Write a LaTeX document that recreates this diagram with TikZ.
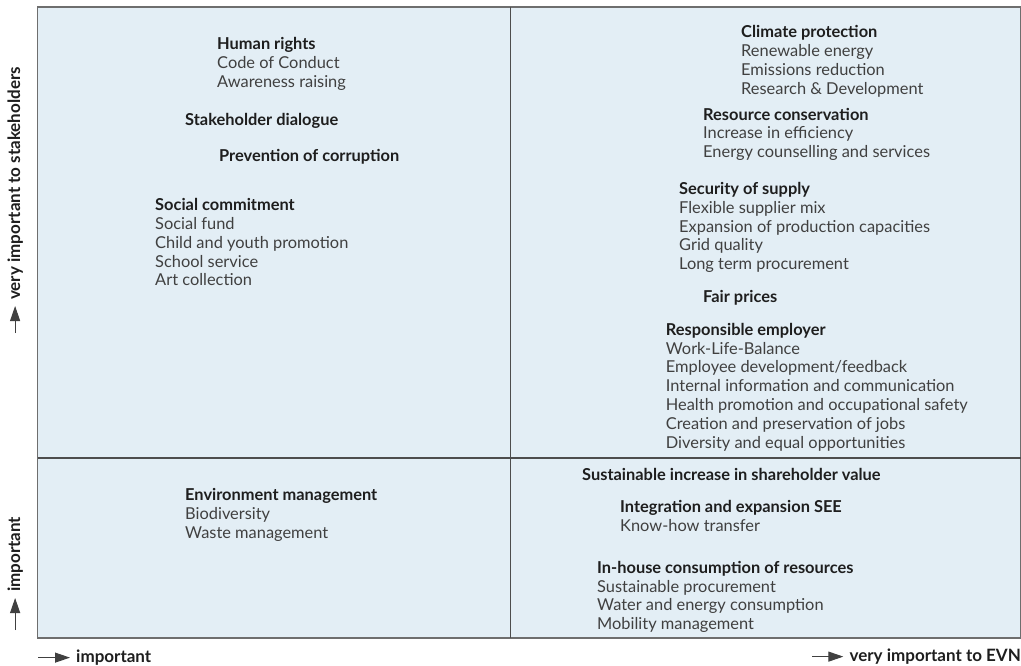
\documentclass[tikz,border=0pt]{standalone}
\usepackage{fontspec}
\setmainfont{Lato}
\usetikzlibrary{arrows.meta, positioning}
\definecolor{panelblue}{HTML}{E3EEF5}
\definecolor{framegray}{HTML}{6E6E6E}
\definecolor{itemgray}{HTML}{404040}
\definecolor{headblack}{HTML}{1E1E1E}
\newcommand{\head}[1]{\textcolor{headblack}{\textbf{#1}}}
\tikzset{
    topic/.style = {anchor=north west, inner sep=0pt, align=left, text=itemgray, font=\fontsize{16.4}{18.8}\selectfont,
                    execute at begin node=\rule{0pt}{14.2pt}},
    axislabel/.style = {inner sep=0pt, text=headblack, font=\fontsize{17}{18}\selectfont\bfseries},
    axisarrow/.style = {draw=itemgray, line width=1pt, -{Triangle[length=15pt, width=10pt]}, shorten >=6pt},
    divider/.style = {draw=framegray!70!black, line width=1.5pt}
}

\begin{document}
\begin{tikzpicture}[x=1pt, y=-1pt]
        \useasboundingbox (0,0) rectangle (1021,666);

        % Quadrants
        \draw [fill=panelblue, draw=framegray, line width=1.2pt] (37.5,7) rectangle (1020.5,638);
        \path [divider] (510.5,7) -- (510.5,638);
        \path [divider] (37.5,458) -- (1020.5,458);

        % Upper left
        \node [topic] (rights) at (217,37.2) {\head{Human rights}\\Code of Conduct\\Awareness raising};
        \node [topic] (dialogue) at (185,111.5) {\head{Stakeholder dialogue}};
        \node [topic] (corruption) at (219,147.5) {\head{Prevention of corruption}};
        \node [topic] (social) at (155,198.3) {\head{Social commitment}\\Social fund\\Child and youth promotion\\School service\\Art collection};

        % Upper right
        \node [topic] (climate) at (741,25.5) {\head{Climate protection}\\Renewable energy\\Emissions reduction\\Research \& Development};
        \node [topic] (resource) at (703,107.8) {\head{Resource conservation}\\Increase in efficiency\\Energy counselling and services};
        \node [topic] (supply) at (679,182.2) {\head{Security of supply}\\Flexible supplier mix\\Expansion of production capacities\\Grid quality\\Long term procurement};
        \node [topic] (prices) at (703,288.2) {\head{Fair prices}};
        \node [topic] (employer) at (665.7,323) {\head{Responsible employer}\\Work-Life-Balance\\Employee development/feedback\\Internal information and communication\\Health promotion and occupational safety\\Creation and preservation of jobs\\Diversity and equal opportunities};

        % Lower left
        \node [topic] (environment) at (185,488.3) {\head{Environment management}\\Biodiversity\\Waste management};

        % Lower right
        \node [topic] (shareholder) at (582,465.8) {\head{Sustainable increase in shareholder value}};
        \node [topic] (see) at (620,500.2) {\head{Integration and expansion SEE}\\Know-how transfer};
        \node [topic] (inhouse) at (597,561) {\head{In-house consumption of resources}\\Sustainable procurement\\Water and energy consumption\\Mobility management};

        % Axes
        \node [axislabel, anchor=base west] (xlow) at (76,662.5) {important};
        \node [axislabel, anchor=base east] (xhigh) at (1021,661.5) {very important to EVN};
        \node [axislabel, anchor=base west, rotate=90] (ylow) at (20,592) {important};
        \node [axislabel, anchor=base west, rotate=90] (yhigh) at (20,300) {very important to stakeholders};

        \coordinate (xlow-tail) at ([xshift=-38pt]xlow.west);
        \coordinate (xhigh-tail) at ([xshift=-37pt]xhigh.west);
        \coordinate (ylow-tail) at ([yshift=-38pt]ylow.west);
        \coordinate (yhigh-tail) at ([yshift=-33pt]yhigh.west);

        \path [axisarrow] (xlow-tail) -- (xlow);
        \path [axisarrow] (xhigh-tail) -- (xhigh);
        \path [axisarrow] (ylow-tail) -- (ylow);
        \path [axisarrow] (yhigh-tail) -- (yhigh);

    \end{tikzpicture}
\end{document}
